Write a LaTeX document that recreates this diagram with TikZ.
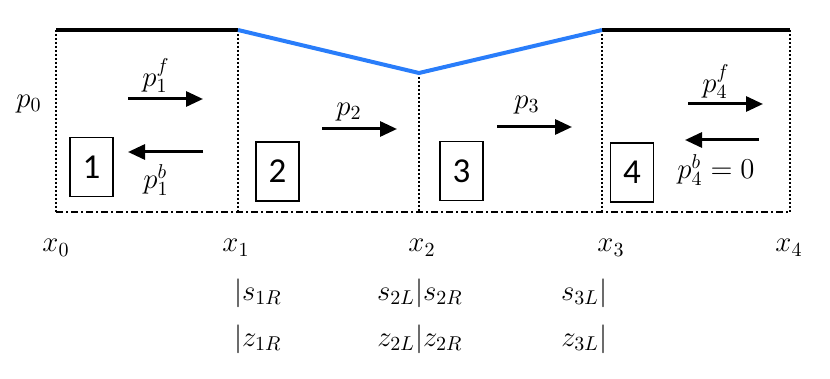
\documentclass[tikz,border=0pt]{standalone}
\usepackage{fontspec}
\newfontfamily\boxfont{Carlito}
\usetikzlibrary{arrows.meta}
\definecolor{profblue}{RGB}{41,125,250}
\begin{document}
\begin{tikzpicture}[x=0.5pt,y=-0.5pt,
  lbl/.style={font=\fontsize{14.4}{17}\selectfont, inner sep=0pt},
  cellbox/.style={draw, line width=0.7pt, minimum width=21.5pt, minimum height=29.5pt, inner sep=0pt, font=\boxfont\fontsize{17.5}{20}\selectfont},
  flow/.style={line width=1.5pt, -{Triangle[length=8.5pt,width=7.5pt]}},
  wall/.style={line width=1pt, dash pattern=on 1pt off 1pt},
  floor/.style={line width=1pt, dash pattern=on 3.5pt off 1.5pt on 1pt off 1.5pt},
  flat/.style={line width=2pt},
  slope/.style={line width=2pt, profblue}]
\useasboundingbox (0,0) rectangle (830,379);
% profile points
\coordinate (t0) at (56,30);
\coordinate (t1) at (238,30);
\coordinate (t2) at (419,73);
\coordinate (t3) at (602,30);
\coordinate (t4) at (790,30);
\coordinate (b0) at (56,212);
\coordinate (b1) at (238,212);
\coordinate (b2) at (419,212);
\coordinate (b3) at (602,212);
\coordinate (b4) at (790,212);
% walls and floor
\draw[wall] (t0) -- (b0);
\draw[wall] (t1) -- (b1);
\draw[wall] (t2) -- (b2);
\draw[wall] (t3) -- (b3);
\draw[wall] (t4) -- (b4);
\draw[floor] (b0) -- (b4);
% top profile
\draw[flat] (t0) -- (t1);
\draw[flat] (t3) -- (t4);
\draw[slope, line join=miter] (t1) -- (t2) -- (t3);
% boxes
\node[cellbox] (c1) at (91.5,167) {1};
\node[cellbox] (c2) at (277.5,171.5) {2};
\node[cellbox] (c3) at (461.5,171) {3};
\node[cellbox] (c4) at (632,172.5) {4};
% arrows
\coordinate (a1s) at (128,99);  \coordinate (a1e) at (203,99);
\coordinate (a1bs) at (203,152); \coordinate (a1be) at (128,152);
\coordinate (a2s) at (322,129); \coordinate (a2e) at (397,129);
\coordinate (a3s) at (497,127); \coordinate (a3e) at (572,127);
\coordinate (a4s) at (688,104); \coordinate (a4e) at (763,104);
\coordinate (a4bs) at (759,140); \coordinate (a4be) at (685,140);
\draw[flow] (a1s) -- (a1e);
\draw[flow] (a1bs) -- (a1be);
\draw[flow] (a2s) -- (a2e);
\draw[flow] (a3s) -- (a3e);
\draw[flow] (a4s) -- (a4e);
\draw[flow] (a4bs) -- (a4be);
% flow labels
\node[lbl] (p1f) at (156,76) {$p_1^f$};
\node[lbl] (p1b) at (156,180) {$p_1^b$};
\node[lbl] (p2) at (349,112) {$p_2$};
\node[lbl] (p3) at (527,105) {$p_3$};
\node[lbl] (p4f) at (716,82) {$p_4^f$};
\node[lbl] (p4b) at (716,170) {$p_4^b=0$};
\node[lbl] (p0) at (29,104) {$p_0$};
% x labels
\node[lbl, anchor=base] (x0) at (56,252) {$x_0$};
\node[lbl, anchor=base] (x1) at (236,252) {$x_1$};
\node[lbl, anchor=base] (x2) at (422,252) {$x_2$};
\node[lbl, anchor=base] (x3) at (611,252) {$x_3$};
\node[lbl, anchor=base] (x4) at (789,252) {$x_4$};
% s row
\node[lbl, anchor=base] (s1) at (238,300) {$|$\rlap{$s_{1R}$}};
\node[lbl, anchor=base] (s2) at (419,300) {\llap{$s_{2L}$}$|$\rlap{$s_{2R}$}};
\node[lbl, anchor=base] (s3) at (603,300) {\llap{$s_{3L}$}$|$};
% z row
\node[lbl, anchor=base] (z1) at (238,346) {$|$\rlap{$z_{1R}$}};
\node[lbl, anchor=base] (z2) at (419,346) {\llap{$z_{2L}$}$|$\rlap{$z_{2R}$}};
\node[lbl, anchor=base] (z3) at (603,346) {\llap{$z_{3L}$}$|$};
\end{tikzpicture}
\end{document}
